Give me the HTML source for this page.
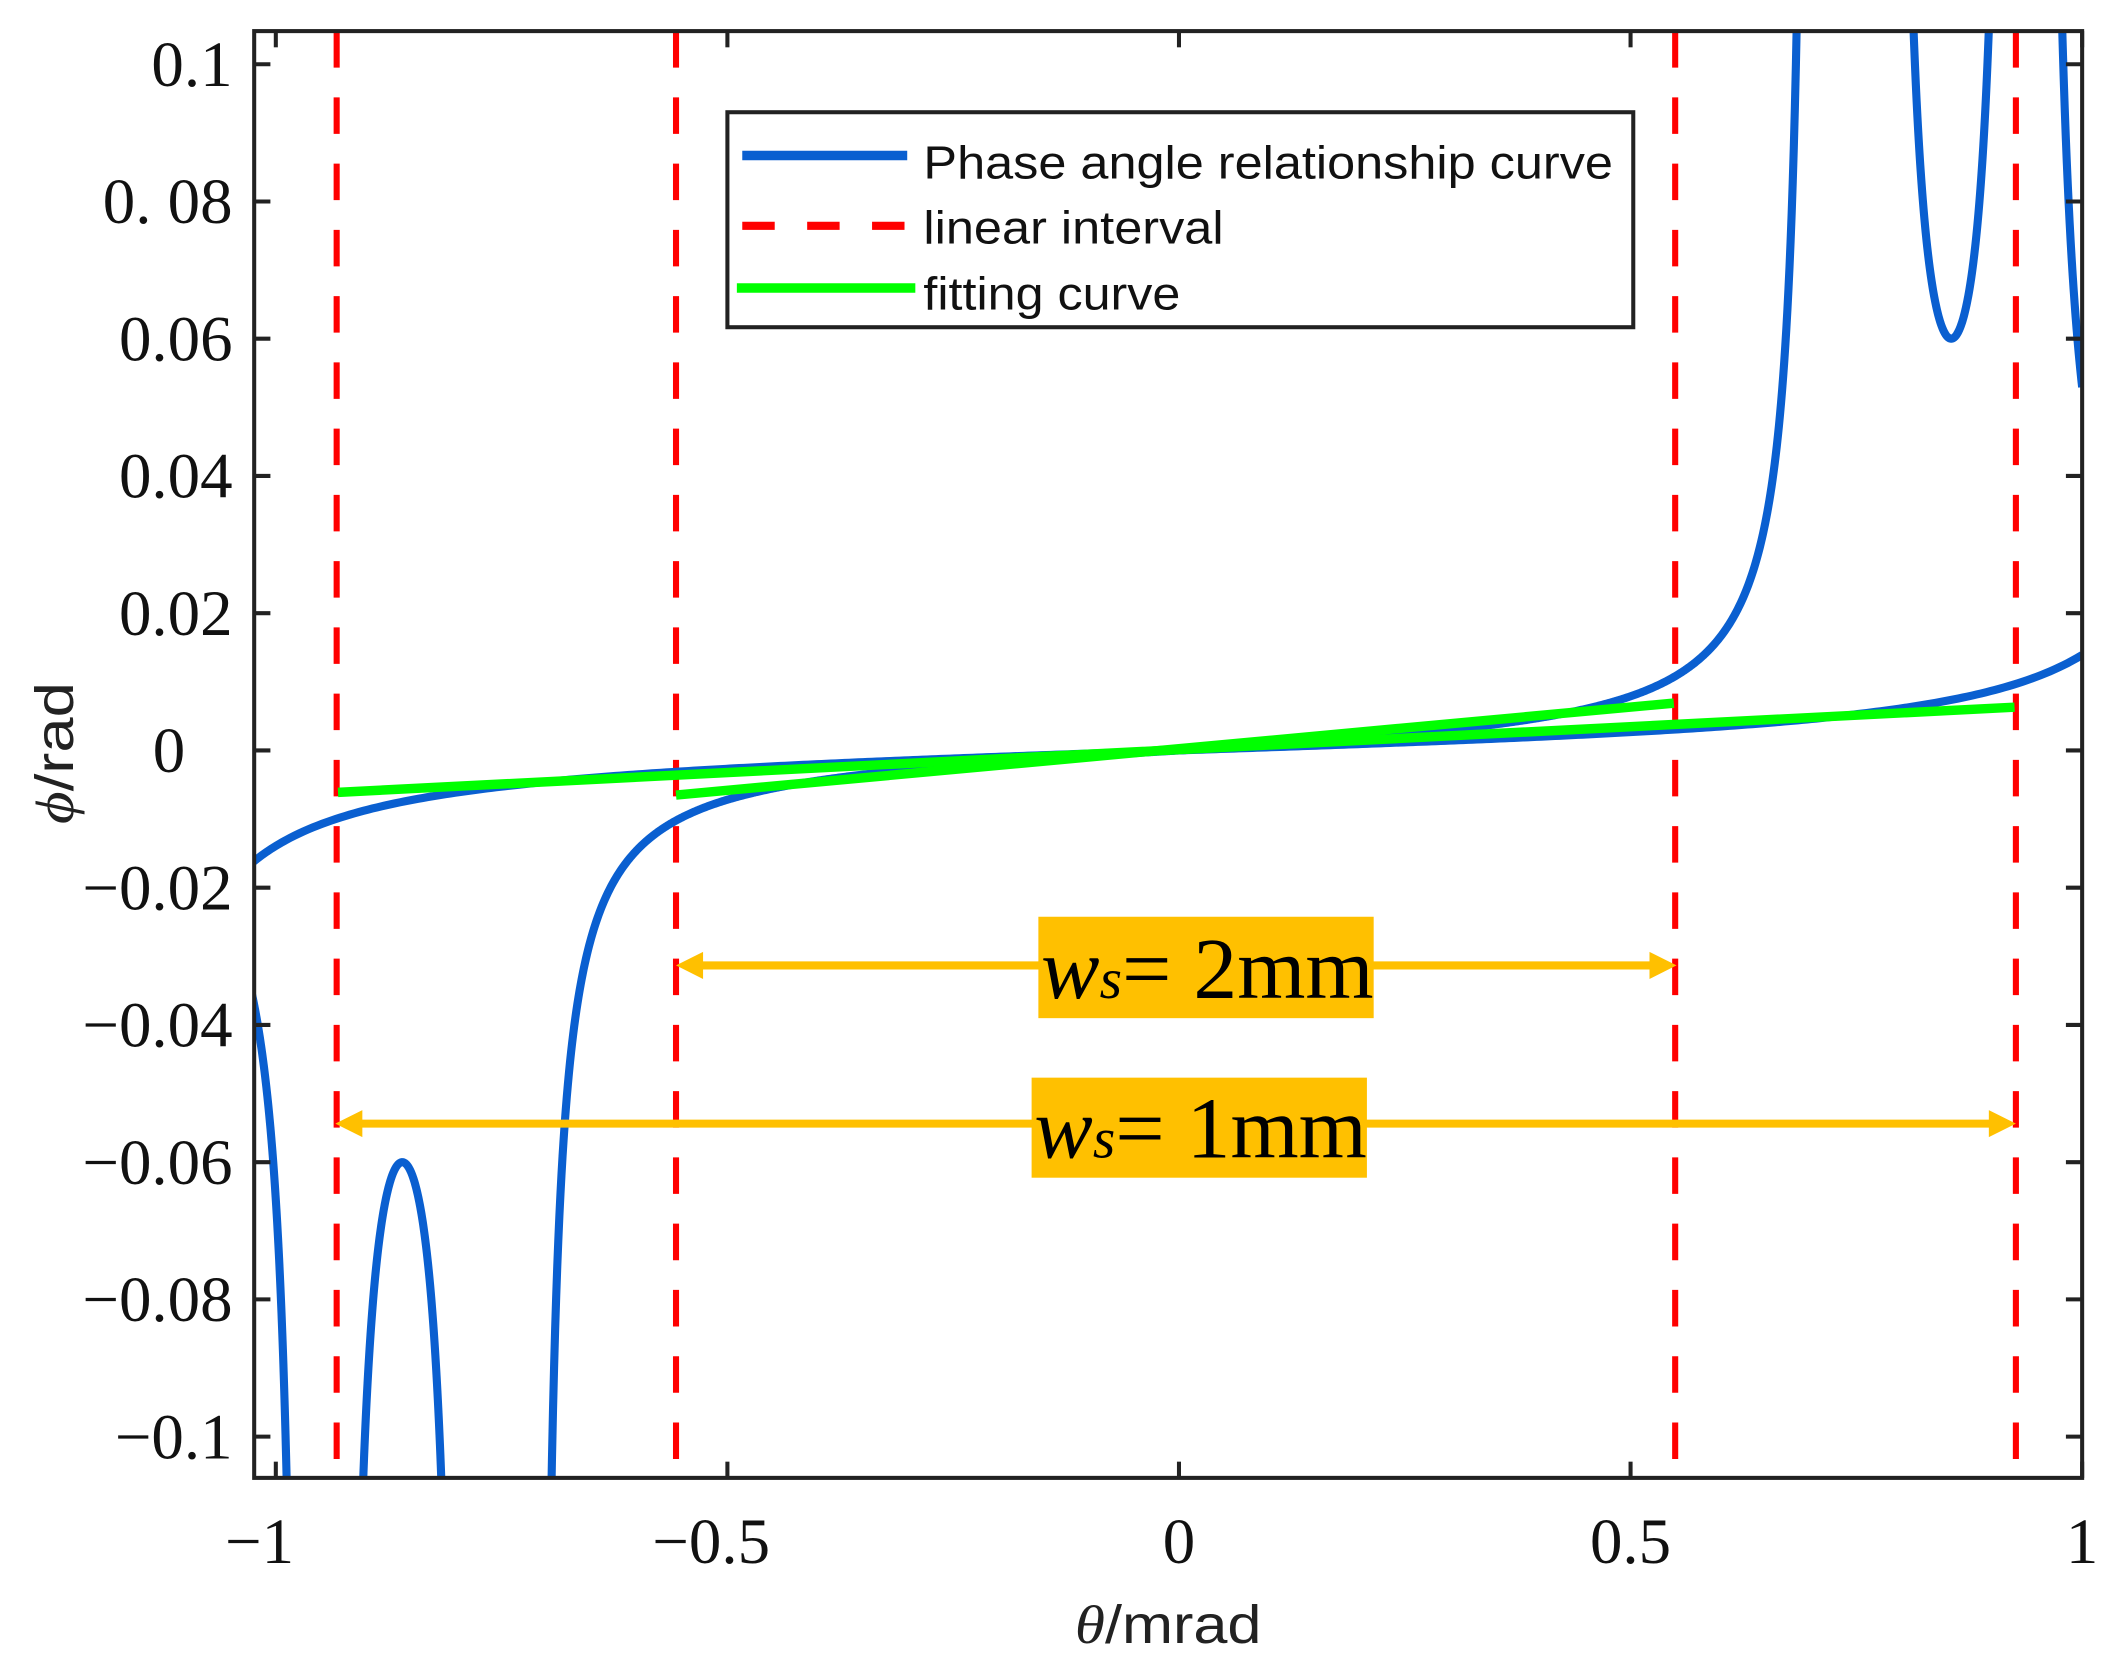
<!DOCTYPE html>
<html><head><meta charset="utf-8"><style>html,body{margin:0;padding:0;background:#fff;overflow:hidden;width:2120px;height:1678px}svg{display:block}</style></head>
<body>
<svg id="s" width="2120" height="1678" viewBox="0 0 1568 1241" preserveAspectRatio="none" xmlns="http://www.w3.org/2000/svg">
<defs><clipPath id="c"><rect x="188" y="23" width="1352" height="1070"/></clipPath></defs>
<rect width="1568" height="1241" fill="#fff"/>
<g id="curves" clip-path="url(#c)"></g>
<g id="axes" stroke="#222" stroke-width="3" fill="none"></g>
<g font-family="Liberation Serif, serif" font-size="48" fill="#111" id="ticklabels"></g>
<!-- legend -->
<rect x="538" y="83" width="670" height="159" fill="#fff" stroke="#222" stroke-width="3"/>
<line x1="549" y1="115" x2="671" y2="115" stroke="#0a5fd0" stroke-width="7"/>
<line x1="549" y1="167" x2="671" y2="167" stroke="#ff0000" stroke-width="6" stroke-dasharray="24,24"/>
<line x1="545" y1="213" x2="677" y2="213" stroke="#00ff00" stroke-width="7"/>
<g font-family="Liberation Sans, sans-serif" font-size="34" fill="#111">
<text x="683" y="132" textLength="510" lengthAdjust="spacingAndGlyphs">Phase angle relationship curve</text>
<text x="683" y="180" textLength="222" lengthAdjust="spacingAndGlyphs">linear interval</text>
<text x="683" y="229" textLength="190" lengthAdjust="spacingAndGlyphs">fitting curve</text>
</g>
<!-- axis labels -->
<text x="864" y="1215" text-anchor="middle" font-family="Liberation Sans, sans-serif" font-size="40" fill="#222" textLength="138" lengthAdjust="spacingAndGlyphs"><tspan font-family="Liberation Serif, serif" font-style="italic">θ</tspan>/mrad</text>
<text transform="translate(54,557) rotate(-90)" text-anchor="middle" font-family="Liberation Sans, sans-serif" font-size="40" fill="#222" textLength="105" lengthAdjust="spacingAndGlyphs"><tspan font-family="Liberation Serif, serif" font-style="italic">ϕ</tspan>/rad</text>
<!-- annotations -->
<g stroke="#ffc000" stroke-width="6" fill="#ffc000">
<line x1="512" y1="714" x2="1228" y2="714"/>
<polygon points="500,714 520,704 520,724" stroke="none"/>
<polygon points="1240,714 1220,704 1220,724" stroke="none"/>
<line x1="260" y1="831" x2="1479" y2="831"/>
<polygon points="248,831 268,821 268,841" stroke="none"/>
<polygon points="1491,831 1471,821 1471,841" stroke="none"/>
</g>
<rect x="768" y="678" width="248" height="75" fill="#ffc000"/>
<rect x="763" y="797" width="248" height="74" fill="#ffc000"/>
<g font-family="Liberation Serif, serif" font-size="64" fill="#000">
<text x="770" y="738" textLength="246" lengthAdjust="spacingAndGlyphs"><tspan font-style="italic">w</tspan><tspan font-style="italic" font-size="42">s</tspan>= 2mm</text>
<text x="765" y="856" textLength="246" lengthAdjust="spacingAndGlyphs"><tspan font-style="italic">w</tspan><tspan font-style="italic" font-size="42">s</tspan>= 1mm</text>
</g>
<script>
var NS="http://www.w3.org/2000/svg";
function X(x){return 872+668*x}
function Y(y){return 555-5075*y}
function cl(v){return Math.max(-0.2,Math.min(0.2,v))}
function path(f,a,b,n,col,w,g){var d="";for(var i=0;i<=n;i++){var x=a+(b-a)*i/n;var y=cl(f(x));d+=(i?"L":"M")+X(x).toFixed(2)+","+Y(y).toFixed(2);}
var p=document.createElementNS(NS,"path");p.setAttribute("d",d);p.setAttribute("fill","none");p.setAttribute("stroke",col);p.setAttribute("stroke-width",w);p.setAttribute("stroke-linejoin","round");g.appendChild(p);}
var g=document.getElementById("curves");
var B="#0a5fd0";
[249,500,1239,1491].forEach(function(x){var l=document.createElementNS(NS,"line");l.setAttribute("x1",x);l.setAttribute("x2",x);l.setAttribute("y1",23);l.setAttribute("y2",1093);l.setAttribute("stroke","#ff0000");l.setAttribute("stroke-width","4.5");l.setAttribute("stroke-dasharray","27,22");g.appendChild(l);});
path(function(x){return 0.0034*Math.tan(Math.PI*x/2.36)},-1.03,1.0,400,B,6,g);
path(function(x){return x<0?0.0036*Math.tan(Math.PI*x/1.42):0.0038*Math.tan(Math.PI*x/1.4)},-0.7095,0.6995,1200,B,6,g);
path(function(x){return 0.06/Math.cos(Math.PI/2*(x-0.855)/0.068)},0.7875,0.9225,300,B,6,g);
path(function(x){return -0.06/Math.cos(Math.PI/2*(x+0.86)/0.07)},-0.9295,-0.7905,300,B,6,g);
path(function(x){return 0.00235/(x-0.9556)},0.9575,1.0,200,B,6,g);
path(function(x){return -0.00205/(-x-0.9687)},-1.03,-0.9705,200,B,6,g);
[[250,586,1490,523],[500,588,1238,520]].forEach(function(a){var l=document.createElementNS(NS,"line");l.setAttribute("x1",a[0]);l.setAttribute("y1",a[1]);l.setAttribute("x2",a[2]);l.setAttribute("y2",a[3]);l.setAttribute("stroke","#00ff00");l.setAttribute("stroke-width","7");g.appendChild(l);});
var ax=document.getElementById("axes"),tl=document.getElementById("ticklabels");
function ln(x1,y1,x2,y2){var l=document.createElementNS(NS,"line");l.setAttribute("x1",x1);l.setAttribute("y1",y1);l.setAttribute("x2",x2);l.setAttribute("y2",y2);ax.appendChild(l);}
var r=document.createElementNS(NS,"rect");r.setAttribute("x",188);r.setAttribute("y",23);r.setAttribute("width",1352);r.setAttribute("height",1070);ax.appendChild(r);
function tx(s,x,y,anc){var t=document.createElementNS(NS,"text");t.setAttribute("x",x);t.setAttribute("y",y);t.setAttribute("text-anchor",anc);t.textContent=s;tl.appendChild(t);}
var xs=[[-1,"\u22121"],[-0.5,"\u22120.5"],[0,"0"],[0.5,"0.5"],[1,"1"]];
xs.forEach(function(a){var x=X(a[0]);ln(x,1093,x,1081);ln(x,23,x,35);tx(a[1],x+(a[0]<0?-12:0),1156,"middle");});
var ys=[[0.1,"0.1"],[0.08,"0. 08"],[0.06,"0.06"],[0.04,"0.04"],[0.02,"0.02"],[0,"0"],[-0.02,"\u22120.02"],[-0.04,"\u22120.04"],[-0.06,"\u22120.06"],[-0.08,"\u22120.08"],[-0.1,"\u22120.1"]];
ys.forEach(function(a){var y=Y(a[0]);ln(188,y,200,y);ln(1540,y,1528,y);tx(a[1],a[0]===0?137:172,y+16,"end");});
</script>
</svg>
</body></html>
